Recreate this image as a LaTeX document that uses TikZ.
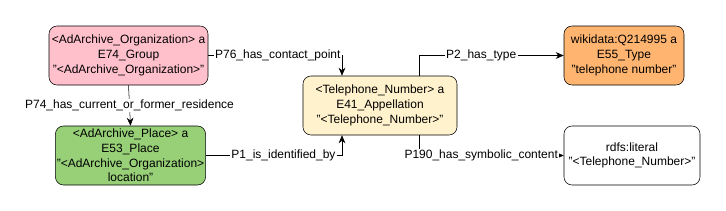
\documentclass[tikz,border=0pt]{standalone}
\usepackage{fontspec}
\setmainfont{Liberation Sans}
\usetikzlibrary{arrows.meta}

\definecolor{orgpink}{HTML}{FFC0CB}
\definecolor{placegreen}{HTML}{97D077}
\definecolor{telyellow}{HTML}{FFF2CC}
\definecolor{typeorange}{HTML}{FFB570}

\begin{document}
\begin{tikzpicture}[x=0.75pt, y=-0.75pt, >={Stealth[length=6pt, width=5pt]},
    entity/.style={draw, rounded corners=6pt, align=center, font=\fontsize{9}{11}\selectfont,
        minimum height=44.25pt, inner sep=1pt},
    prop/.style={fill=white, inner sep=1pt, font=\fontsize{9}{10}\selectfont}]
    \useasboundingbox (0,0) rectangle (726,211);

    % Knoten
    \node[entity, fill=orgpink, minimum width=119.25pt] (org) at (128.5, 55.5)
        {<AdArchive\_Organization> a\\E74\_Group\\"<AdArchive\_Organization>"};
    \node[entity, fill=placegreen, minimum width=111.75pt] (place) at (130.5, 155.5)
        {<AdArchive\_Place> a\\E53\_Place\\"<AdArchive\_Organization>\\location"};
    \node[entity, fill=telyellow, minimum width=115.5pt] (tel) at (380, 105.5)
        {<Telephone\_Number> a\\E41\_Appellation\\"<Telephone\_Number>"};
    \node[entity, fill=typeorange, minimum width=90pt] (type) at (624, 55.5)
        {wikidata:Q214995 a\\E55\_Type\\"telephone number"};
    \node[entity, fill=white, minimum width=102pt] (lit) at (632, 155.5)
        {rdfs:literal\\"<Telephone\_Number>"};

    % Kanten
    \draw[->] (org.east) -| node[prop, pos=0.26] {P76\_has\_contact\_point} ([xshift=-28.5pt]tel.north);
    \draw[->] (org.south) -- node[prop] {P74\_has\_current\_or\_former\_residence} (place.north);
    \draw[->] (place.east) -| node[prop, pos=0.285] {P1\_is\_identified\_by} ([xshift=-28.5pt]tel.south);
    \draw[->] ([xshift=29.25pt]tel.north) |- node[prop, pos=0.715] {P2\_has\_type} (type.west);
    \draw[->] ([xshift=29.25pt]tel.south) |- node[prop, pos=0.715] {P190\_has\_symbolic\_content} (lit.west);
\end{tikzpicture}
\end{document}
